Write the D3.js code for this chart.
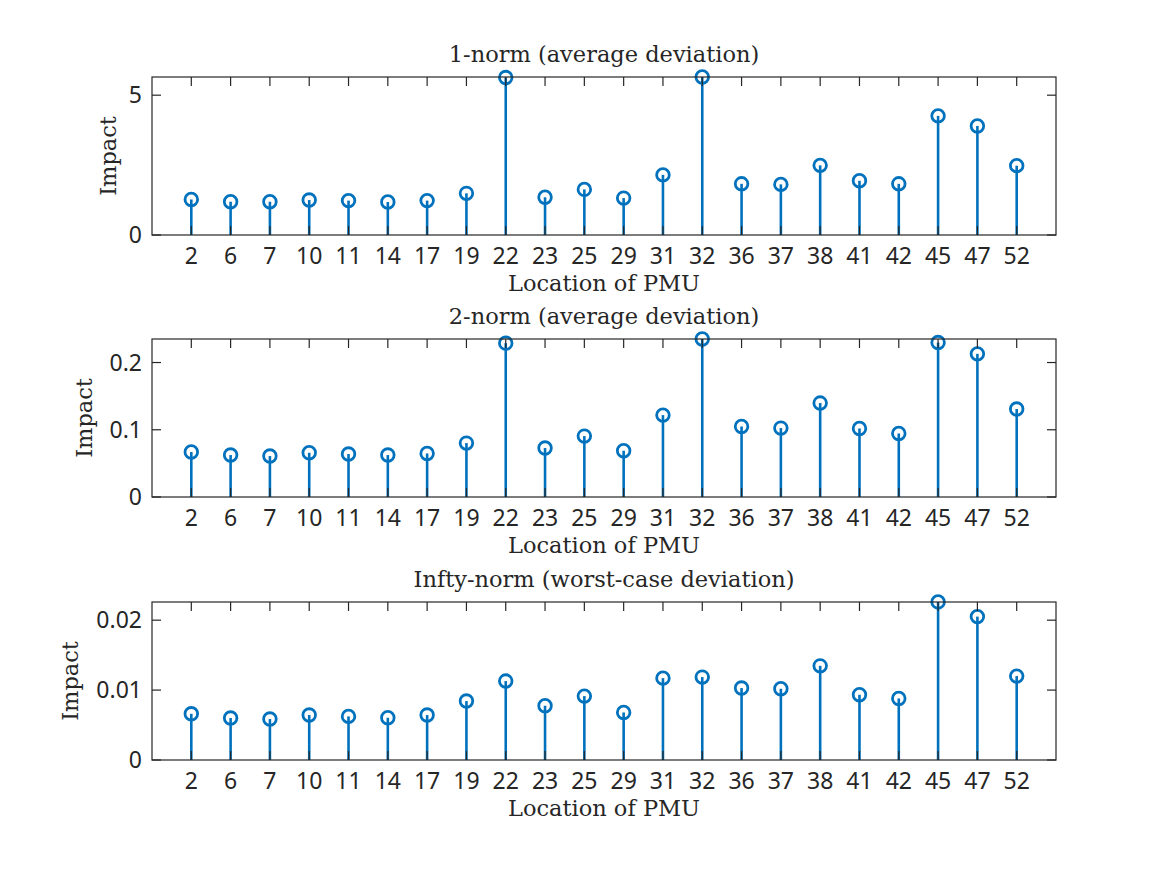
<!DOCTYPE html>
<html>
<head>
<meta charset="utf-8">
<script src="https://cdn.jsdelivr.net/npm/d3@7"></script>
<style>
  body { margin: 0; background: #fff; }
  .box { fill: none; stroke: #262626; stroke-width: 1.2; }
  .tick line { stroke: #262626; stroke-width: 1.2; }
  .ticklabel { font-family: "Noto Sans", sans-serif; font-size: 23px; fill: #262626; }
  .label { font-family: "DejaVu Serif", serif; font-size: 22.5px; fill: #262626; }
  .stem { stroke: #0072BD; stroke-width: 2.6; }
  .head { fill: none; stroke: #0072BD; stroke-width: 2.8; }
</style>
</head>
<body>
<svg id="chart" width="1167" height="875"></svg>
<script>
// PMU locations (x categories) shared by all three panels
const locations = ["2", "6", "7", "10", "11", "14", "17", "19", "22", "23", "25",
                   "29", "31", "32", "36", "37", "38", "41", "42", "45", "47", "52"];

const norm1 = [1.27, 1.19, 1.19, 1.25, 1.23, 1.18, 1.23, 1.49, 5.63, 1.35, 1.63,
               1.32, 2.15, 5.65, 1.83, 1.81, 2.49, 1.94, 1.83, 4.26, 3.90, 2.48];
const norm2 = [0.0669, 0.0624, 0.0609, 0.0658, 0.0639, 0.0624, 0.0648, 0.0802, 0.2288, 0.0728, 0.0906,
               0.0688, 0.1218, 0.2350, 0.1049, 0.1025, 0.1397, 0.1019, 0.0945, 0.2297, 0.2129, 0.1308];
const normInf = [0.00661, 0.00600, 0.00586, 0.00643, 0.00624, 0.00604, 0.00643, 0.00843, 0.01129, 0.00776, 0.00914,
                 0.00680, 0.01171, 0.01186, 0.01029, 0.01019, 0.01347, 0.00933, 0.00880, 0.02261, 0.02051, 0.01200];

const ticks1 = [0, 5],          tickLabels1 = ["0", "5"];
const ticks2 = [0, 0.1, 0.2],   tickLabels2 = ["0", "0.1", "0.2"];
const ticks3 = [0, 0.01, 0.02], tickLabels3 = ["0", "0.01", "0.02"];

const panels = [
    { title: "1-norm (average deviation)",       values: norm1,   ymax: 5.65,   ticks: ticks1, labels: tickLabels1, top: 77,  ylabX: 116 },
    { title: "2-norm (average deviation)",       values: norm2,   ymax: 0.235,  ticks: ticks2, labels: tickLabels2, top: 339, ylabX: 92 },
    { title: "Infty-norm (worst-case deviation)", values: normInf, ymax: 0.0226, ticks: ticks3, labels: tickLabels3, top: 602, ylabX: 78 }
];

const left = 152, right = 1056, plotH = 158, tickLen = 9;
const svg = d3.select("#chart");

const x = d3.scaleLinear().domain([0, locations.length + 1]).range([left, right]);

panels.forEach(p => {
    const bottom = p.top + plotH;
    const y = d3.scaleLinear().domain([0, p.ymax]).range([bottom, p.top]);
    const g = svg.append("g");

    // stems + circle heads
    const pts = g.append("g").selectAll("g")
        .data(p.values)
        .join("g");
    pts.append("line")
        .attr("class", "stem")
        .attr("x1", (d, i) => x(i + 1)).attr("x2", (d, i) => x(i + 1))
        .attr("y1", y(0)).attr("y2", d => y(d));
    pts.append("circle")
        .attr("class", "head")
        .attr("cx", (d, i) => x(i + 1))
        .attr("cy", d => y(d))
        .attr("r", 6.3);

    // ticks (inward, both sides like MATLAB box on)
    const tk = g.append("g").attr("class", "tick");
    locations.forEach((loc, i) => {
        const xx = x(i + 1);
        tk.append("line").attr("x1", xx).attr("x2", xx).attr("y1", bottom).attr("y2", bottom - tickLen);
        tk.append("line").attr("x1", xx).attr("x2", xx).attr("y1", p.top).attr("y2", p.top + tickLen);
        g.append("text").attr("class", "ticklabel")
            .attr("x", xx).attr("y", bottom + 29)
            .attr("text-anchor", "middle")
            .text(loc);
    });
    p.ticks.forEach((t, i) => {
        const yy = y(t);
        tk.append("line").attr("x1", left).attr("x2", left + tickLen).attr("y1", yy).attr("y2", yy);
        tk.append("line").attr("x1", right).attr("x2", right - tickLen).attr("y1", yy).attr("y2", yy);
        g.append("text").attr("class", "ticklabel")
            .attr("x", left - 10).attr("y", yy).attr("dy", "0.36em")
            .attr("text-anchor", "end")
            .text(p.labels[i]);
    });

    g.append("rect").attr("class", "box")
        .attr("x", left).attr("y", p.top)
        .attr("width", right - left).attr("height", plotH);

    // title, axis labels
    g.append("text").attr("class", "label")
        .attr("x", (left + right) / 2).attr("y", p.top - 15)
        .attr("text-anchor", "middle")
        .text(p.title);
    g.append("text").attr("class", "label")
        .attr("x", (left + right) / 2).attr("y", bottom + 56)
        .attr("text-anchor", "middle")
        .text("Location of PMU");
    g.append("text").attr("class", "label")
        .attr("transform", `translate(${p.ylabX},${(p.top + bottom) / 2}) rotate(-90)`)
        .attr("text-anchor", "middle")
        .text("Impact");
});
</script>
</body>
</html>
